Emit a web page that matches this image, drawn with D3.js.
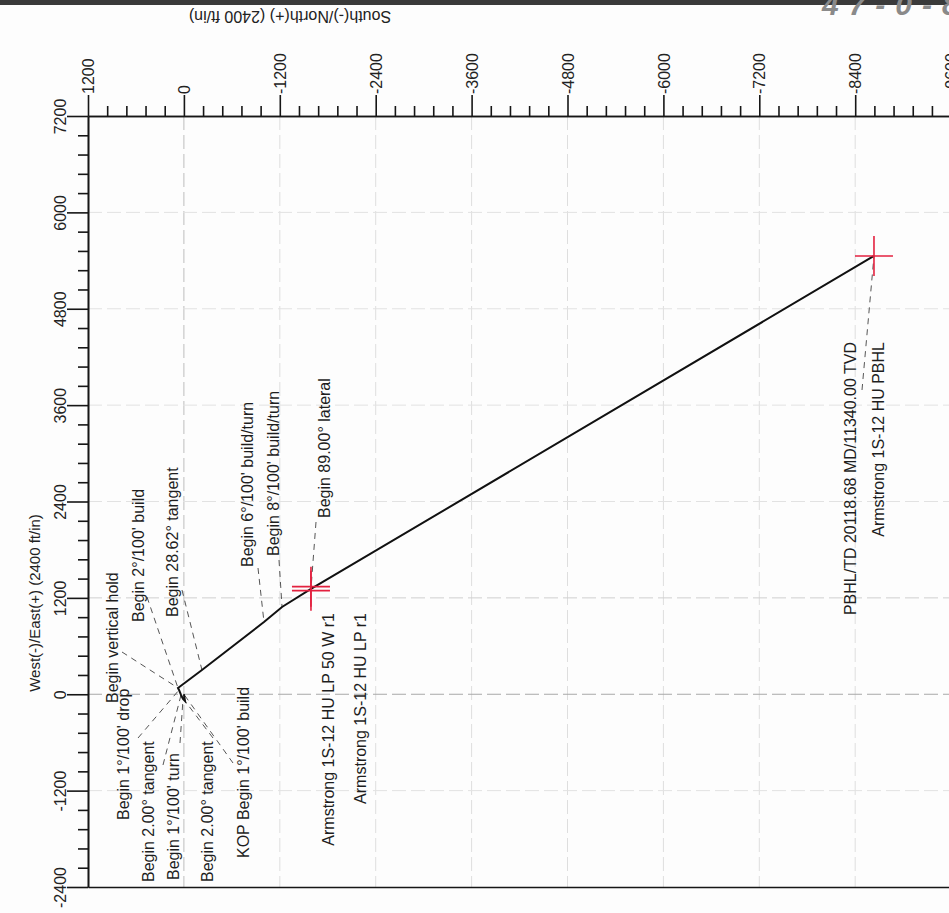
<!DOCTYPE html>
<html lang="en">
<head>
<meta charset="utf-8">
<title>Plan view - Armstrong 1S-12 HU</title>
<script type="text/javascript" src="https://d3js.org/d3.v7.min.js"></script>
<style type="text/css">
	body { margin: 0; background: #fdfdfd; }
	svg { display: block; font-family: "Liberation Sans", Arial, sans-serif; }
</style>
</head>
<body>
<script type="text/javascript">

// Axis ticks (ft)
var nsTicks = [1200, 0, -1200, -2400, -3600, -4800, -6000, -7200, -8400, -9600];
var ewTicks = [7200, 6000, 4800, 3600, 2400, 1200, 0, -1200, -2400];

// Survey stations along the wellbore (South(-)/North(+), West(-)/East(+))
var stations = ["KOP Begin 1°/100' build", "Begin 2.00° tangent", "Begin 1°/100' turn",
                "Begin 2.00° tangent", "Begin 1°/100' drop", "Begin vertical hold",
                "Begin 2°/100' build", "Begin 28.62° tangent", "Begin 6°/100' build/turn",
                "Begin 8°/100' build/turn", "Begin 89.00° lateral",
                "PBHL/TD 20118.68 MD/11340.00 TVD"];
var stationNS = [0, -14, 11, 36, 61, 74, 74, -226, -1002, -1228, -1590, -8635];
var stationEW = [0, -84, -59, -9, 53, 78, 78, 302, 900, 1087, 1311, 5457];

// Targets
var targets = ["Armstrong 1S-12 HU LP 50 W r1", "Armstrong 1S-12 HU LP r1", "Armstrong 1S-12 HU PBHL"];
var targetNS = [-1590, -1590, -8635];
var targetEW = [1290, 1340, 5457];

// Label layout (pixels): rotated text, x = line centre, y = start (or end)
var labelX = [243, 207, 173, 148, 123, 112, 138, 172, 247, 273, 324, 850];
var labelY = [858, 882, 880, 882, 820, 703, 622, 617, 567, 556, 518, 342];
var leaderX = [233, 213, 180, 163, 138, 122, 147, 182, 258, 279, 316, 862];
var leaderY = [763, 738, 743, 765, 738, 652, 597, 590, 568, 560, 522, 390];
var targetLabelX = [328, 360, 878];
var targetLabelY = [613, 613, 342];

var w = 949;
var h = 913;

var svg = d3.select("body")
            .append("svg")
            .attr("width", w)
            .attr("height", h);

// scanned page edge + handwriting
svg.append("rect").attr("x", 0).attr("y", 0).attr("width", w).attr("height", 5).attr("fill", "#3a3a3a");
svg.append("text")
   .attr("x", 822).attr("y", 15)
   .attr("font-size", 30).attr("font-style", "italic").attr("font-weight", "bold")
   .attr("letter-spacing", 10)
   .attr("fill", "#8a8a8a")
   .text("47-0-8");

// Scales
var x = d3.scaleLinear().domain([1200, -9600]).range([88, 88 + 9 * 95.9]);
var y = d3.scaleLinear().domain([7200, -2400]).range([116, 887]);

var minorNS = d3.range(-9600, 1201, 240).filter(function(d){ return d % 1200 !== 0; });
var minorEW = d3.range(-2400, 7201, 240).filter(function(d){ return d % 1200 !== 0; });

// Grid (very faint on the scan, zero lines a bit darker)
svg.append("g")
   .selectAll("line")
   .data(nsTicks.slice(1))
   .enter()
   .append("line")
   .attr("x1", function(d){ return x(d); })
   .attr("x2", function(d){ return x(d); })
   .attr("y1", y(7200))
   .attr("y2", y(-2400))
   .attr("stroke", function(d){ return d === 0 ? "#bdbdbd" : "#dedede"; })
   .attr("stroke-dasharray", "14,5");

svg.append("g")
   .selectAll("line")
   .data(ewTicks.slice(1, -1))
   .enter()
   .append("line")
   .attr("x1", x(1200))
   .attr("x2", w)
   .attr("y1", function(d){ return y(d); })
   .attr("y2", function(d){ return y(d); })
   .attr("stroke", function(d){ return d === 0 ? "#a8a8a8" : (d === 1200 ? "#cfcfcf" : "#e2e2e2"); })
   .attr("stroke-dasharray", "14,5");

var fmt = function(d){ return String(d); };

// Top axis (South/North)
var topAxis = svg.append("g")
   .attr("transform", "translate(0," + y(7200) + ")")
   .call(d3.axisTop(x).tickValues(nsTicks).tickSize(21).tickSizeOuter(0).tickFormat(fmt));
topAxis.selectAll(".tick text")
   .attr("transform", "rotate(-90)")
   .attr("text-anchor", "start")
   .attr("x", 22)
   .attr("y", 0)
   .attr("dy", "0.35em");
svg.append("g")
   .attr("transform", "translate(0," + y(7200) + ")")
   .call(d3.axisTop(x).tickValues(minorNS).tickSize(10).tickSizeOuter(0).tickFormat(""));

// Left axis (West/East)
var leftAxis = svg.append("g")
   .attr("transform", "translate(" + x(1200) + ",0)")
   .call(d3.axisLeft(y).tickValues(ewTicks).tickSize(21).tickSizeOuter(0).tickFormat(fmt));
leftAxis.selectAll(".tick text")
   .attr("transform", "rotate(-90)")
   .attr("text-anchor", "middle")
   .attr("x", 0)
   .attr("y", -28)
   .attr("dy", "0.35em");
svg.append("g")
   .attr("transform", "translate(" + x(1200) + ",0)")
   .call(d3.axisLeft(y).tickValues(minorEW).tickSize(10).tickSizeOuter(0).tickFormat(""));

// Bottom frame line
svg.append("g")
   .attr("transform", "translate(0," + y(-2400) + ")")
   .call(d3.axisBottom(x).tickValues([]).tickSizeOuter(0));

svg.selectAll(".domain, .tick line").attr("stroke", "#161616").attr("stroke-width", 1.6);
svg.selectAll(".tick text").attr("fill", "#222").attr("font-size", 16).attr("font-family", "Liberation Sans, Arial, sans-serif");

// Axis titles
svg.append("text")
   .attr("transform", "translate(35,603) rotate(-90)")
   .attr("text-anchor", "middle")
   .attr("dy", "0.35em")
   .attr("font-size", 15)
   .attr("fill", "#222")
   .text("West(-)/East(+) (2400 ft/in)");

svg.append("text")
   .attr("transform", "translate(290,17) rotate(180)")
   .attr("text-anchor", "middle")
   .attr("dy", "0.35em")
   .attr("font-size", 16)
   .attr("fill", "#222")
   .text("South(-)/North(+) (2400 ft/in)");

// Leader lines
svg.append("g")
   .selectAll("line")
   .data(stations)
   .enter()
   .append("line")
   .attr("x1", function(d, i){ return leaderX[i]; })
   .attr("y1", function(d, i){ return leaderY[i]; })
   .attr("x2", function(d, i){ return x(stationNS[i]); })
   .attr("y2", function(d, i){ return y(stationEW[i]); })
   .attr("stroke", "#555")
   .attr("stroke-width", 1)
   .attr("stroke-dasharray", "6,5");

// Wellbore
var path = d3.line()
   .x(function(d){ return x(d[0]); })
   .y(function(d){ return y(d[1]); });

svg.append("path")
   .datum(d3.zip(stationNS, stationEW))
   .attr("d", path)
   .attr("fill", "none")
   .attr("stroke", "#111")
   .attr("stroke-width", 2);

// Target crosses
var cross = svg.append("g")
   .selectAll("g")
   .data(targets)
   .enter()
   .append("g")
   .attr("transform", function(d, i){ return "translate(" + x(targetNS[i]) + "," + y(targetEW[i]) + ")"; })
   .attr("stroke", "#e3213f")
   .attr("stroke-width", 1.6);
cross.append("line").attr("x1", -19).attr("x2", 19).attr("y1", 0).attr("y2", 0);
cross.append("line").attr("x1", 0).attr("x2", 0).attr("y1", -20).attr("y2", 20);

// Station labels
svg.append("g")
   .selectAll("text")
   .data(stations)
   .enter()
   .append("text")
   .attr("transform", function(d, i){ return "translate(" + labelX[i] + "," + labelY[i] + ") rotate(-90)"; })
   .attr("text-anchor", function(d, i){ return i === stations.length - 1 ? "end" : "start"; })
   .attr("dy", "0.35em")
   .attr("font-size", 16)
   .attr("fill", "#1e1e1e")
   .text(function(d){ return d; });

// Target labels
svg.append("g")
   .selectAll("text")
   .data(targets)
   .enter()
   .append("text")
   .attr("transform", function(d, i){ return "translate(" + targetLabelX[i] + "," + targetLabelY[i] + ") rotate(-90)"; })
   .attr("text-anchor", "end")
   .attr("dy", "0.35em")
   .attr("font-size", 16)
   .attr("fill", "#1e1e1e")
   .text(function(d){ return d; });

</script>
</body>
</html>
